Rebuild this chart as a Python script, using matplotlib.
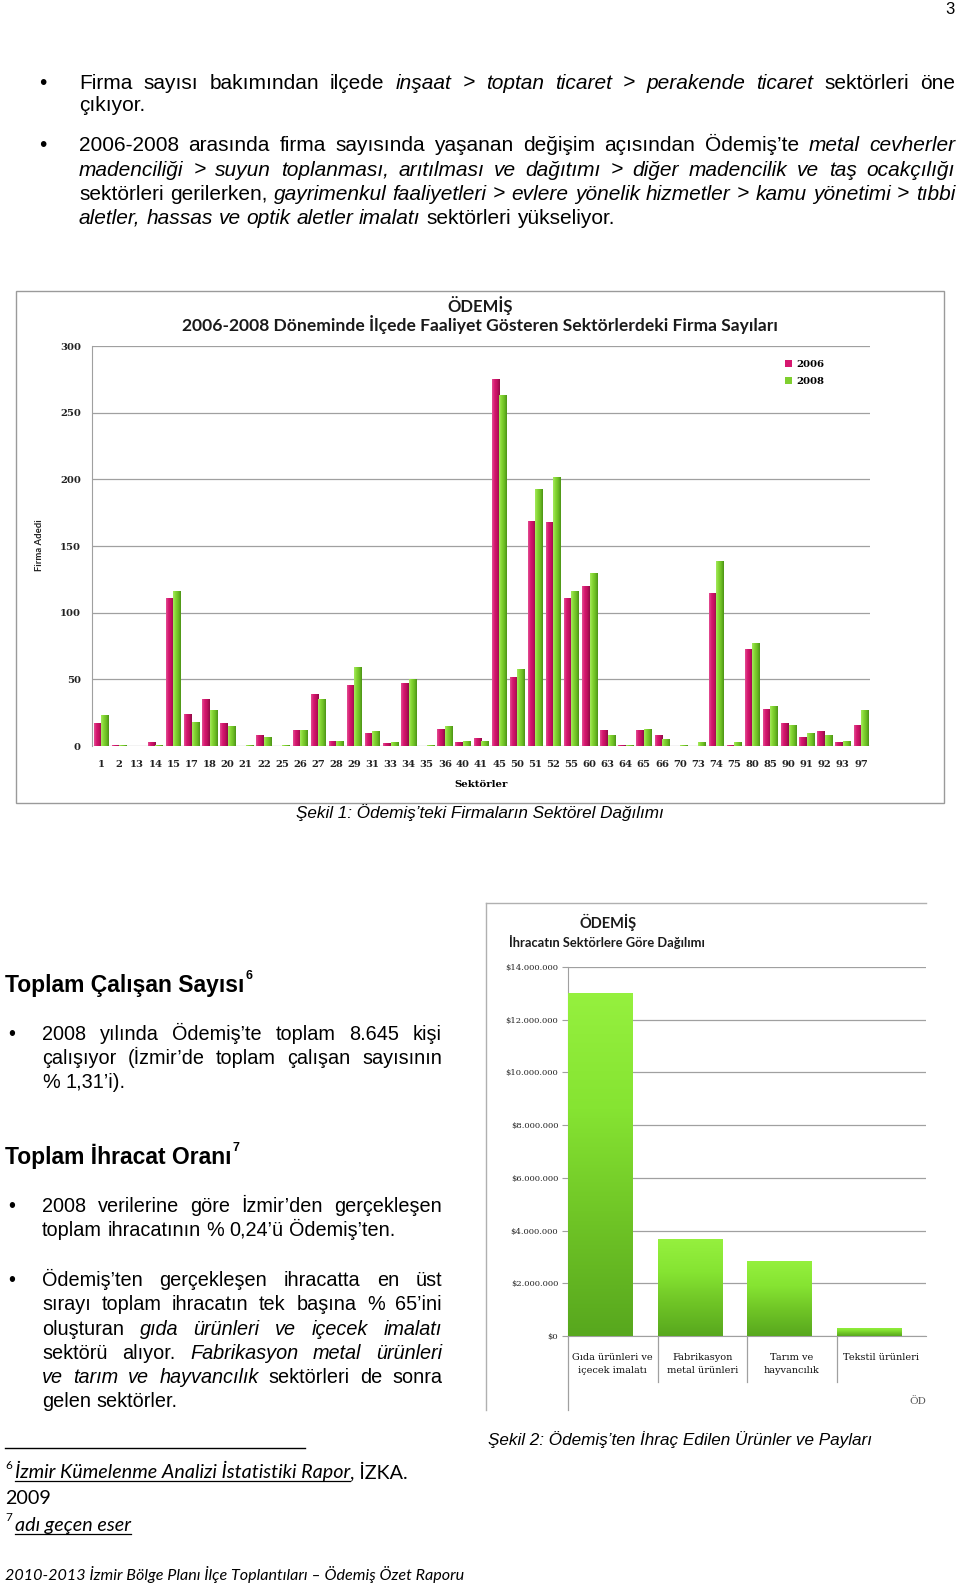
import numpy as np
import matplotlib
matplotlib.use("Agg")
import matplotlib.pyplot as plt
import matplotlib.transforms as mtrans
from matplotlib.patches import Rectangle
from matplotlib.lines import Line2D
from matplotlib.colors import LinearSegmentedColormap
from matplotlib.ticker import FuncFormatter, MultipleLocator

# Sekil 1 - firm counts per sector
sectors = ['1', '2', '13', '14', '15', '17', '18', '20', '21', '22', '25', '26', '27', '28',
           '29', '31', '33', '34', '35', '36', '40', '41', '45', '50', '51', '52', '55', '60',
           '63', '64', '65', '66', '70', '73', '74', '75', '80', '85', '90', '91', '92', '93', '97']
firms_2006 = [17, 1, 0, 3, 111, 24, 35, 17, 0, 8, 0, 12, 39, 4, 46, 10, 2, 47, 0, 13, 3, 6,
              275, 52, 169, 168, 111, 120, 12, 1, 12, 8, 0, 0, 115, 1, 73, 28, 17, 7, 11, 3, 16]
firms_2008 = [23, 1, 0, 1, 116, 18, 27, 15, 1, 7, 1, 12, 35, 4, 59, 11, 3, 50, 1, 15, 4, 4,
              263, 58, 193, 202, 116, 130, 8, 1, 13, 5, 1, 3, 139, 3, 77, 30, 16, 10, 8, 4, 27]
years = ['2006', '2008']

# Sekil 2 - exports by sector
export_sectors = ['Gıda ürünleri ve\niçecek imalatı', 'Fabrikasyon\nmetal ürünleri',
                  'Tarım ve\nhayvancılık', 'Tekstil ürünleri']
export_usd = [13000000, 3670000, 2860000, 320000]

W, H = 960, 1585
fig = plt.figure(figsize=(W / 100, H / 100), dpi=100)
renderer = fig.canvas.get_renderer()

SANS = ['Liberation Sans', 'DejaVu Sans']
SERIF = ['DejaVu Serif']
CAL = ['Lato', 'DejaVu Sans']
PINK = '#d6176f'
GREEN = '#7fcf2f'
GRID = '#a0a0a0'


def fx(x):
    return x / W


def fy(y):
    return 1 - y / H


def put(x, y, s, size, family=SANS, **kw):
    kw.setdefault('va', 'baseline')
    return fig.text(fx(x), fy(y), s, fontsize=size, family=family, **kw)


def width_of(t):
    return t.get_window_extent(renderer).width


def text_line(y, x0, x1, parts, size, justify=True, family=SANS):
    # place words one by one, spread to fill x0..x1 when justified
    words = []
    for s, st in parts:
        for w in s.split():
            words.append((w, st))
    while True:
        objs = [put(0, y, w, size, family=family, style=st) for w, st in words]
        widths = [width_of(t) for t in objs]
        space = size * 100 / 72 * 0.278
        gap = space
        if justify and len(objs) > 1:
            gap = (x1 - x0 - sum(widths)) / (len(objs) - 1)
        if gap >= 0.7 * space or size < 8:
            break
        for t in objs:
            t.remove()
        size -= 0.2
    x = x0
    for t, w in zip(objs, widths):
        t.set_x(fx(x))
        x += w + gap
    return x


def run(x, y, parts, size, family=CAL):
    # consecutive segments, optional underline
    for s, st, ul in parts:
        t = put(x, y, s, size, family=family, style=st)
        w = width_of(t)
        if ul:
            fig.add_artist(Line2D([fx(x), fx(x + w)], [fy(y + 2.5), fy(y + 2.5)],
                                  color='black', lw=0.9, transform=fig.transFigure))
        x += w
    return x


def gradient_bars(ax, bars, colors, vertical=False):
    cmap = LinearSegmentedColormap.from_list('g', colors)
    for b in bars:
        x0, y0, w, h = b.get_x(), b.get_y(), b.get_width(), b.get_height()
        if h <= 0:
            continue
        if vertical:
            grad = np.linspace(0, 1, 64).reshape(-1, 1)
        else:
            grad = np.linspace(0, 1, 32).reshape(1, -1)
        im = ax.imshow(grad, extent=[x0, x0 + w, y0, y0 + h], origin='lower', aspect='auto',
                       cmap=cmap, zorder=3, interpolation='bilinear')
        im.set_clip_path(b)


# ---------------- page text (top) ----------------
put(950, 14, '3', 12, ha='center')

TOP = 15
put(43, 89, '•', TOP, ha='center')
text_line(89, 79, 955, [('Firma sayısı bakımından ilçede', 'normal'),
                        ('inşaat > toptan ticaret > perakende ticaret', 'italic'),
                        ('sektörleri öne', 'normal')], TOP)
text_line(111, 79, 955, [('çıkıyor.', 'normal')], TOP, justify=False)
put(43, 151, '•', TOP, ha='center')
text_line(151, 79, 955, [('2006-2008 arasında firma sayısında yaşanan değişim açısından Ödemiş’te', 'normal'),
                         ('metal cevherler', 'italic')], TOP)
text_line(176, 79, 955, [('madenciliği > suyun toplanması, arıtılması ve dağıtımı > diğer madencilik ve taş ocakçılığı',
                          'italic')], TOP)
text_line(200, 79, 955, [('sektörleri gerilerken,', 'normal'),
                         ('gayrimenkul faaliyetleri > evlere yönelik hizmetler > kamu yönetimi > tıbbi', 'italic')], TOP)
text_line(224, 79, 955, [('aletler, hassas ve optik aletler imalatı', 'italic'),
                         ('sektörleri yükseliyor.', 'normal')], TOP, justify=False)

# ---------------- chart 1 ----------------
fig.add_artist(Rectangle((fx(16), fy(803)), (944 - 16) / W, (803 - 291) / H, fill=False,
                         edgecolor='#9a9a9a', lw=1.0, transform=fig.transFigure))
ax1 = fig.add_axes([fx(92), fy(746), (870 - 92) / W, (746 - 346) / H])
x = np.arange(len(sectors))
bw = 0.41
b06 = ax1.bar(x - bw / 2, firms_2006, bw, color=PINK, label=years[0], zorder=3)
b08 = ax1.bar(x + bw / 2, firms_2008, bw, color=GREEN, label=years[1], zorder=3)
gradient_bars(ax1, b06, ['#e24d92', '#d6176f', '#c0105f', '#900a47'])
gradient_bars(ax1, b08, ['#a4ea5c', '#84d532', '#6cbe24', '#4d9416'])
ax1.set_xlim(-0.5, len(sectors) - 0.5)
ax1.set_ylim(0, 300)
ax1.yaxis.set_major_locator(MultipleLocator(50))
ax1.grid(axis='y', color=GRID, lw=0.9)
ax1.set_axisbelow(True)
for s in ['top', 'right', 'bottom']:
    ax1.spines[s].set_visible(False)
ax1.spines['left'].set_color(GRID)
ax1.set_xticks(x, sectors)
ax1.tick_params(length=0, labelsize=7.2, colors='#222222')
ax1.tick_params(axis='x', pad=10)
ax1.tick_params(axis='y', pad=8)
for lab in ax1.get_xticklabels() + ax1.get_yticklabels():
    lab.set_family(SERIF)
    lab.set_weight('bold')
ax1.set_facecolor('none')

put(480, 312, 'ÖDEMİŞ', 12, family=CAL, weight='bold', ha='center', color='#1a1a1a')
put(480, 331, '2006-2008 Döneminde İlçede Faaliyet Gösteren Sektörlerdeki Firma Sayıları', 12.6,
    family=CAL, weight='bold', ha='center', color='#1a1a1a')
put(40, 545, 'Firma Adedi', 6.8, family=CAL, weight='bold', rotation=90, ha='center', va='center',
    color='#222222')
put(481, 787, 'Sektörler', 7.3, family=SERIF, weight='bold', ha='center')
fig.legend(handles=[b06, b08], labels=years, loc='upper left', bbox_to_anchor=(fx(776), fy(351)),
           frameon=False, prop={'family': SERIF, 'size': 7.3, 'weight': 'bold'},
           handlelength=0.7, handleheight=0.7, handletextpad=0.4, labelspacing=0.75)

put(480, 818, 'Şekil 1: Ödemiş’teki Firmaların Sektörel Dağılımı', 12.3, style='italic', ha='center')

# ---------------- left column text ----------------
BODY = 14.3
h1 = put(5, 992, 'Toplam Çalışan Sayısı', 16.5, weight='bold')
put(5 + width_of(h1) + 1, 979, '6', 9, weight='bold')
put(12, 1040, '•', BODY, ha='center')
text_line(1040, 42, 442, [('2008 yılında Ödemiş’te toplam 8.645 kişi', 'normal')], BODY)
text_line(1064, 42, 442, [('çalışıyor (İzmir’de toplam çalışan sayısının', 'normal')], BODY)
text_line(1088, 42, 442, [('% 1,31’i).', 'normal')], BODY, justify=False)

h2 = put(5, 1164, 'Toplam İhracat Oranı', 16.5, weight='bold')
put(5 + width_of(h2) + 1, 1151, '7', 9, weight='bold')
put(12, 1212, '•', BODY, ha='center')
text_line(1212, 42, 442, [('2008 verilerine göre İzmir’den gerçekleşen', 'normal')], BODY)
text_line(1236, 42, 442, [('toplam ihracatının % 0,24’ü Ödemiş’ten.', 'normal')], BODY, justify=False)

put(12, 1286, '•', BODY, ha='center')
text_line(1286, 42, 442, [('Ödemiş’ten gerçekleşen ihracatta en üst', 'normal')], BODY)
text_line(1310, 42, 442, [('sırayı toplam ihracatın tek başına % 65’ini', 'normal')], BODY)
text_line(1335, 42, 442, [('oluşturan', 'normal'), ('gıda ürünleri ve içecek imalatı', 'italic')], BODY)
text_line(1359, 42, 442, [('sektörü alıyor.', 'normal'), ('Fabrikasyon metal ürünleri', 'italic')], BODY)
text_line(1383, 42, 442, [('ve tarım ve hayvancılık', 'italic'), ('sektörleri de sonra', 'normal')], BODY)
text_line(1407, 42, 442, [('gelen sektörler.', 'normal')], BODY, justify=False)

# ---------------- chart 2 ----------------
fig.add_artist(Line2D([fx(486), fx(926)], [fy(903), fy(903)], color='#b0b0b0', lw=1.0,
                      transform=fig.transFigure))
fig.add_artist(Line2D([fx(486), fx(486)], [fy(903), fy(1410)], color='#b0b0b0', lw=1.0,
                      transform=fig.transFigure))
ax2 = fig.add_axes([fx(568), fy(1336), (926 - 568) / W, (1336 - 967) / H])
xc = np.arange(len(export_sectors))
bars2 = ax2.bar(xc - 0.495, export_usd, 0.72, align='edge', color=GREEN, zorder=3)
gradient_bars(ax2, bars2, ['#58a81e', '#6fc426', '#86e432', '#95f03e'], vertical=True)
ax2.set_xlim(-0.5, len(export_sectors) - 0.5)
ax2.set_ylim(0, 14000000)
ax2.yaxis.set_major_locator(MultipleLocator(2000000))
ax2.yaxis.set_major_formatter(FuncFormatter(lambda v, p: '$' + f'{v:,.0f}'.replace(',', '.')))
ax2.grid(axis='y', color=GRID, lw=0.9)
ax2.set_axisbelow(True)
for s in ['top', 'right']:
    ax2.spines[s].set_visible(False)
ax2.spines['left'].set_color(GRID)
ax2.spines['bottom'].set_color(GRID)
ax2.set_xticks(xc, export_sectors, linespacing=1.65)
ax2.tick_params(axis='x', length=0, pad=12, labelsize=7, colors='#111111')
ax2.tick_params(axis='y', length=4, color=GRID, pad=3, labelsize=6, colors='#222222')
for lab in ax2.get_xticklabels() + ax2.get_yticklabels():
    lab.set_family(SERIF)
ax2.set_facecolor('none')
sep = mtrans.blended_transform_factory(ax2.transData, ax2.transAxes)
for b in xc[:-1] + 0.5:
    ax2.plot([b, b], [0, -46 / 369], transform=sep, color=GRID, lw=0.9, clip_on=False)
ax2.plot([0, 0], [0, -74 / 369], transform=ax2.transAxes, color=GRID, lw=0.9, clip_on=False)

put(608, 928, 'ÖDEMİŞ', 10.5, family=CAL, weight='bold', ha='center', color='#1a1a1a')
put(509, 947, 'İhracatın Sektörlere Göre Dağılımı', 9.3, family=CAL, weight='bold', color='#1a1a1a')
cut = put(909, 1404, 'ÖDEMİŞ', 7.5, family=SERIF, color='#555555')
cut.set_clip_box(mtrans.Bbox.from_extents(0, 0, 926, H))
cut.set_clip_on(True)

put(488, 1445, 'Şekil 2: Ödemiş’ten İhraç Edilen Ürünler ve Payları', 12.3, style='italic')

# ---------------- footnotes ----------------
fig.add_artist(Line2D([fx(5), fx(305)], [fy(1448), fy(1448)], color='black', lw=1.0,
                      transform=fig.transFigure))
put(5, 1469, '6', 8.5, family=CAL)
run(15, 1478, [('İzmir Kümelenme Analizi İstatistiki Rapor', 'italic', True),
               (', İZKA.', 'normal', False)], 14.2)
put(5, 1504, '2009', 14.2, family=CAL)
put(5, 1521, '7', 8.5, family=CAL)
run(15, 1531, [('adı geçen eser', 'italic', True)], 14.2)
put(5, 1580, '2010-2013 İzmir Bölge Planı İlçe Toplantıları – Ödemiş Özet Raporu', 11.6,
    family=CAL, style='italic')

fig.savefig('out.png', dpi=100)
